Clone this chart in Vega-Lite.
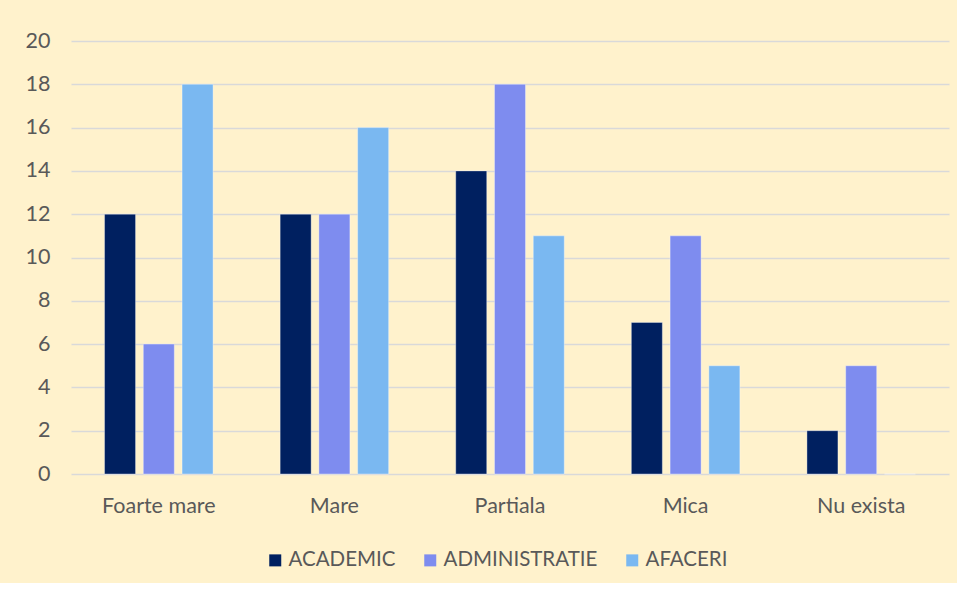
{
  "$schema": "https://vega.github.io/schema/vega-lite/v6.json",
  "autosize": {"type": "none"},
  "width": 878,
  "height": 433,
  "padding": {"left": 71, "top": 41, "right": 8, "bottom": 109},
  "background": "#FFF2CC",
  "config": {
    "view": {"stroke": null},
    "font": "Lato",
    "axis": {"labelFont": "Lato", "labelColor": "#595959", "labelFontSize": 21.5},
    "legend": {"labelFont": "Lato", "labelColor": "#595959", "labelFontSize": 20.5}
  },
  "data": {
    "values": [
      {"cat": "Foarte mare", "grup": "ACADEMIC", "val": 12},
      {"cat": "Foarte mare", "grup": "ADMINISTRATIE", "val": 6},
      {"cat": "Foarte mare", "grup": "AFACERI", "val": 18},
      {"cat": "Mare", "grup": "ACADEMIC", "val": 12},
      {"cat": "Mare", "grup": "ADMINISTRATIE", "val": 12},
      {"cat": "Mare", "grup": "AFACERI", "val": 16},
      {"cat": "Partiala", "grup": "ACADEMIC", "val": 14},
      {"cat": "Partiala", "grup": "ADMINISTRATIE", "val": 18},
      {"cat": "Partiala", "grup": "AFACERI", "val": 11},
      {"cat": "Mica", "grup": "ACADEMIC", "val": 7},
      {"cat": "Mica", "grup": "ADMINISTRATIE", "val": 11},
      {"cat": "Mica", "grup": "AFACERI", "val": 5},
      {"cat": "Nu exista", "grup": "ACADEMIC", "val": 2},
      {"cat": "Nu exista", "grup": "ADMINISTRATIE", "val": 5},
      {"cat": "Nu exista", "grup": "AFACERI", "val": 0}
    ]
  },
  "mark": {"type": "bar", "stroke": "#FFFFFF", "strokeWidth": 0.6, "strokeOpacity": 0.6},
  "encoding": {
    "x": {
      "field": "cat",
      "type": "nominal",
      "sort": null,
      "title": null,
      "scale": {"paddingInner": 0.382, "paddingOuter": 0.191},
      "axis": {"domain": false, "ticks": false, "labelAngle": 0, "labelPadding": 21}
    },
    "xOffset": {
      "field": "grup",
      "type": "nominal",
      "scale": {"paddingInner": 0.2, "paddingOuter": 0}
    },
    "y": {
      "field": "val",
      "type": "quantitative",
      "title": null,
      "scale": {"domain": [0, 20], "nice": false},
      "axis": {
        "values": [0, 2, 4, 6, 8, 10, 12, 14, 16, 18, 20],
        "domain": false,
        "ticks": false,
        "labelPadding": 21,
        "grid": true,
        "gridColor": "#D9D9D9",
        "gridWidth": 1.5
      }
    },
    "color": {
      "field": "grup",
      "type": "nominal",
      "title": null,
      "scale": {
        "domain": ["ACADEMIC", "ADMINISTRATIE", "AFACERI"],
        "range": ["#002060", "#7E8CEF", "#7AB8F1"]
      },
      "legend": {
        "orient": "none",
        "legendX": 194,
        "legendY": 509,
        "direction": "horizontal",
        "symbolType": "square",
        "symbolSize": 144,
        "symbolStrokeWidth": 0,
        "columnPadding": 24,
        "labelOffset": 3
      }
    }
  }
}
